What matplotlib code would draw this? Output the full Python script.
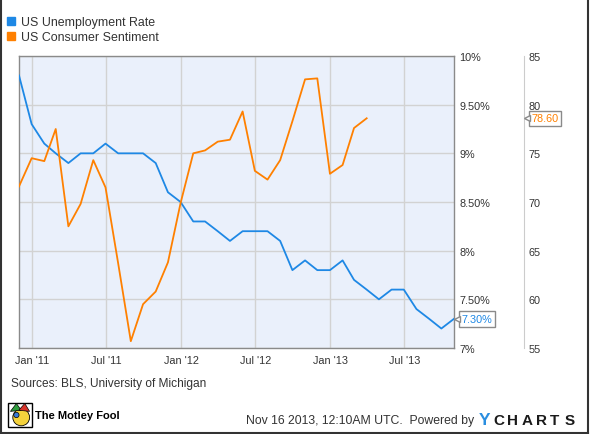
import numpy as np
import pandas as pd
import matplotlib
matplotlib.use("Agg")
import matplotlib.pyplot as plt
import matplotlib.dates as mdates
from matplotlib.lines import Line2D
from matplotlib.patches import Rectangle, Ellipse, Polygon
from matplotlib.transforms import ScaledTranslation

plt.rcParams['font.family'] = ['Liberation Sans', 'DejaVu Sans']

# monthly data, dated at month end
unemp_dates = pd.date_range('2010-11-30', periods=36, freq='ME')
unemployment = [9.8, 9.3, 9.1, 9.0, 8.9, 9.0, 9.0, 9.1, 9.0, 9.0, 9.0, 8.9,
                8.6, 8.5, 8.3, 8.3, 8.2, 8.1, 8.2, 8.2, 8.2, 8.1, 7.8, 7.9,
                7.8, 7.8, 7.9, 7.7, 7.6, 7.5, 7.6, 7.6, 7.4, 7.3, 7.2, 7.3]

sent_dates = pd.date_range('2010-11-30', periods=29, freq='ME')
sentiment = [71.6, 74.5, 74.2, 77.5, 67.5, 69.8, 74.3, 71.5, 63.7, 55.7,
             59.5, 60.8, 63.8, 69.9, 75.0, 75.3, 76.2, 76.4, 79.3, 73.2,
             72.3, 74.3, 78.3, 82.6, 82.7, 72.9, 73.8, 77.6, 78.6]

unemp_ticks = [10, 9.5, 9, 8.5, 8, 7.5, 7]
unemp_labels = ['10%', '9.50%', '9%', '8.50%', '8%', '7.50%', '7%']
sent_ticks = [85, 80, 75, 70, 65, 60, 55]

blue = '#1e88e5'
orange = '#ff8000'
txt = '#333333'

W, H = 590, 435
fig = plt.figure(figsize=(W / 100, H / 100), dpi=100)
ax = fig.add_axes([19 / W, 1 - 349 / H, (454 - 19) / W, (349 - 57) / H])
ax.set_facecolor('#eaf0fb')
ax2 = ax.twinx()

ax.plot(unemp_dates, unemployment, color=blue, lw=1.3, zorder=3)
ax.set_xlim(unemp_dates[0], unemp_dates[-1])
ax.set_ylim(7, 10)
ax.set_yticks(unemp_ticks)
ax.set_yticklabels(unemp_labels)
ax.yaxis.tick_right()
ax.xaxis.set_major_locator(mdates.MonthLocator(bymonth=[1, 7]))
ax.xaxis.set_major_formatter(mdates.DateFormatter("%b '%y"))
ax.tick_params(length=0, labelsize=7.8, labelcolor=txt)
ax.tick_params(axis='x', pad=5)
ax.tick_params(axis='y', pad=4)
ax.grid(True, color='#d2d2d2', lw=1)
ax.set_axisbelow(True)
for s in ax.spines.values():
    s.set_color('#8a8a8a')
    s.set_linewidth(1)

ax2.plot(sent_dates, sentiment, color=orange, lw=1.3, zorder=3)
ax2.set_ylim(55, 85)
ax2.set_yticks(sent_ticks)
ax2.tick_params(length=0, labelsize=7.8, labelcolor=txt, pad=3)
for name in ['left', 'top', 'bottom']:
    ax2.spines[name].set_visible(False)
ax2.spines['right'].set_position(('outward', 70 * 0.72))
ax2.spines['right'].set_color('#cccccc')

# last value callouts
box = dict(boxstyle='square,pad=0.25', fc='white', ec='#8a8a8a', lw=1)
ax.annotate('%.2f%%' % unemployment[-1], xy=(unemp_dates[-1], unemployment[-1]),
            xytext=(7.6, 0), textcoords='offset pixels', va='center', ha='left',
            fontsize=7.8, color=blue, bbox=box, annotation_clip=False, zorder=5)
ax.plot([unemp_dates[-1]], [unemployment[-1]], marker='<', ms=4, mfc='white',
        mec='#8a8a8a', mew=1, clip_on=False, zorder=6,
        transform=ax.transData + ScaledTranslation(0.03, 0, fig.dpi_scale_trans))
ax2.annotate('%.2f' % sentiment[-1], xy=(unemp_dates[-1], sentiment[-1]),
             xytext=(77.6, 0), textcoords='offset pixels', va='center', ha='left',
             fontsize=7.8, color=orange, bbox=box, annotation_clip=False, zorder=5)
ax2.plot([unemp_dates[-1]], [sentiment[-1]], marker='<', ms=4, mfc='white',
         mec='#8a8a8a', mew=1, clip_on=False, zorder=6,
         transform=ax2.transData + ScaledTranslation(0.73, 0, fig.dpi_scale_trans))

# legend
handles = [Line2D([], [], marker='s', ls='none', ms=5.2, color=blue),
           Line2D([], [], marker='s', ls='none', ms=5.2, color=orange)]
fig.legend(handles, ['US Unemployment Rate', 'US Consumer Sentiment'],
           loc='upper left', bbox_to_anchor=(6 / W, 1 - 17 / H), frameon=False,
           borderaxespad=0, borderpad=0, handlelength=0.8, handletextpad=0.4,
           labelspacing=0.25, prop={'size': 8.9}, labelcolor=txt)

# footer
fig.text(11 / W, 1 - 384 / H, 'Sources: BLS, University of Michigan',
         va='center', fontsize=8.6, color=txt)
fig.text(474 / W, 1 - 421.5 / H, 'Nov 16 2013, 12:10AM UTC.  Powered by',
         va='center', ha='right', fontsize=8.8, color=txt)
fig.text(479 / W, 1 - 421 / H, 'Y', va='center', ha='left', fontsize=12.5,
         fontweight='bold', color='#2a8ee0')
for i, ch in enumerate('CHARTS'):
    fig.text((493 + i * 14.3) / W, 1 - 421 / H, ch, va='center', ha='left',
             fontsize=11, fontweight='bold', color='#1a1a1a')

# motley fool logo
lx, ly = 8 / W, 1 - 428 / H
lw_, lh = 24 / W, 24 / H
fig.patches.append(Rectangle((lx, ly), lw_, lh, transform=fig.transFigure,
                             fc='white', ec='black', lw=1))
fig.patches.append(Ellipse((lx + 0.55 * lw_, ly + 0.4 * lh), 0.7 * lw_, 0.7 * lh,
                           transform=fig.transFigure, fc='#f4d23c', ec='black', lw=0.6))
fig.patches.append(Polygon([(lx + 0.1 * lw_, ly + 0.65 * lh), (lx + 0.35 * lw_, ly + 0.98 * lh),
                            (lx + 0.55 * lw_, ly + 0.7 * lh)], closed=True,
                           transform=fig.transFigure, fc='#2e9e3e', ec='black', lw=0.5))
fig.patches.append(Polygon([(lx + 0.45 * lw_, ly + 0.7 * lh), (lx + 0.7 * lw_, ly + 0.98 * lh),
                            (lx + 0.9 * lw_, ly + 0.65 * lh)], closed=True,
                           transform=fig.transFigure, fc='#d8332a', ec='black', lw=0.5))
fig.patches.append(Ellipse((lx + 0.35 * lw_, ly + 0.5 * lh), 0.22 * lw_, 0.22 * lh,
                           transform=fig.transFigure, fc='#3a7bd5', ec='black', lw=0.5))
fig.text(35 / W, 1 - 416 / H, 'The Motley Fool', va='center', ha='left',
         fontsize=8.0, fontweight='bold', color='black')

# outer frame
for xs, ys in [([0.8, 0.8], [0, H]), ([587.5, 587.5], [0, H]), ([0, 588], [433.5, 433.5])]:
    fig.add_artist(Line2D([x / W for x in xs], [1 - y / H for y in ys],
                          transform=fig.transFigure, color='#333333', lw=1.5))

fig.savefig('out.png', dpi=100)
